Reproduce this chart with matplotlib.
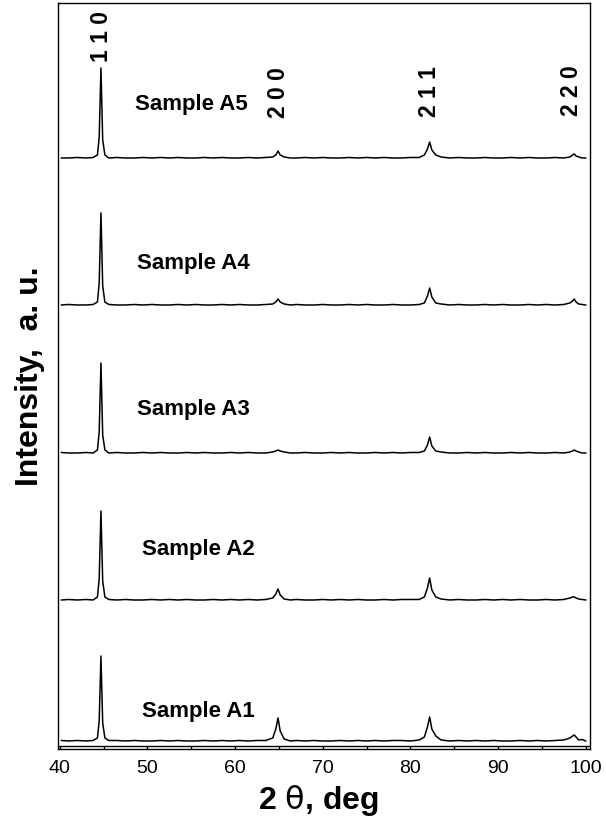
import matplotlib
matplotlib.use("Agg")
import matplotlib.pyplot as plt
from matplotlib.ticker import MultipleLocator

plt.rcParams['font.family'] = ['Liberation Sans', 'DejaVu Sans']
plt.rcParams['mathtext.fontset'] = 'dejavusans'

# 2theta grid (deg)
two_theta = [40.2, 41.0, 42.0, 43.0, 43.8, 44.3, 44.5, 44.7, 44.9, 45.15, 45.6,
             46.5, 47.5, 48.5, 49.5, 50.5, 51.5, 52.5, 53.5, 54.5, 55.5, 56.5, 57.5,
             58.5, 59.5, 60.5, 61.5, 62.5, 63.5, 64.3, 64.65, 64.9, 65.15, 65.6, 66.3,
             67.0, 68.0, 69.0, 70.0, 71.0, 72.0, 73.0, 74.0, 75.0, 76.0, 77.0, 78.0,
             79.0, 80.0, 81.0, 81.6, 81.95, 82.2, 82.45, 82.9, 83.5,
             84.5, 85.5, 86.5, 87.5, 88.5, 89.5, 90.5, 91.5, 92.5, 93.5, 94.5, 95.5,
             96.5, 97.5, 98.2, 98.5, 98.7, 98.9, 99.2, 99.6, 100.0]

# intensities (a.u.) above each trace's own baseline
int_a1 = [0.5, 0, 0.5, 0, 0.5, 3, 20, 85, 18, 3, 0.5,
          0.5, 0, 0.5, 0, 0, 0.5, 0, 0.5, 0, 0, 0.5, 0, 0.5, 0, 0.5, 0, 0.5, 0.5, 3, 12, 23, 10, 2, 0,
          0.5, 0, 0.5, 0, 0, 0.5, 0, 0.5, 0, 0.5, 0, 0.5, 0.5, 0, 1, 4, 14, 24, 12, 5, 1,
          0, 0.5, 0, 0.5, 0, 0.5, 0, 0, 0.5, 0, 0.5, 0, 0.5, 1, 3, 5, 6, 4, 1, 1.5, 0]
int_a2 = [0, 0.5, 0, 0.5, 0, 3, 21, 89, 19, 3, 0.5,
          0, 0.5, 0, 0, 0.5, 0, 0.5, 0, 0.5, 0, 0, 0.5, 0, 0.5, 0, 0.5, 0, 0.5, 2, 6, 11, 5, 1, 0,
          0.5, 0, 0, 0.5, 0, 0.5, 0, 0.5, 0, 0, 0.5, 0, 0.5, 0.5, 0.5, 3, 12, 22, 10, 3, 1,
          0, 0.5, 0, 0, 0.5, 0, 0.5, 0, 0.5, 0, 0, 0.5, 0, 0.5, 2, 3, 3, 2, 1, 0.5, 0]
int_a3 = [0.5, 0, 0, 0.5, 0, 3, 21, 90, 18, 3, 0,
          0.5, 0, 0, 0.5, 0, 0.5, 0, 0, 0.5, 0, 0.5, 0, 0, 0.5, 0, 0.5, 0, 0, 1, 2, 3, 2, 1, 0,
          0, 0.5, 0, 0, 0.5, 0, 0.5, 0, 0, 0.5, 0, 0.5, 0, 0.5, 0.5, 2, 8, 16, 7, 2, 1,
          0, 0, 0.5, 0, 0.5, 0, 0, 0.5, 0, 0.5, 0, 0, 0.5, 0, 1, 2, 3, 2, 1, 0, 0]
int_a4 = [0, 0.5, 0, 0, 0.5, 3, 22, 92, 19, 3, 0.5,
          0, 0, 0.5, 0, 0.5, 0, 0, 0.5, 0, 0.5, 0, 0, 0.5, 0, 0.5, 0, 0, 0.5, 1, 3, 6, 3, 1, 0,
          0.5, 0, 0, 0.5, 0, 0, 0.5, 0, 0.5, 0, 0, 0.5, 0, 0, 0.5, 2, 9, 17, 8, 2, 1,
          0, 0.5, 0, 0, 0.5, 0, 0.5, 0, 0, 0.5, 0, 0.5, 0, 0.5, 2, 4, 6, 3, 1, 0.5, 0]
int_a5 = [0, 0, 0.5, 0, 0.5, 3, 21, 90, 18, 3, 0,
          0.5, 0, 0, 0.5, 0, 0.5, 0, 0.5, 0, 0, 0.5, 0, 0.5, 0, 0, 0.5, 0, 0.5, 1, 3, 7, 3, 1, 0,
          0, 0.5, 0, 0.5, 0, 0, 0.5, 0, 0.5, 0, 0.5, 0, 0, 0.5, 0.5, 3, 9, 16, 8, 3, 1,
          0, 0.5, 0, 0, 0.5, 0, 0, 0.5, 0, 0.5, 0, 0, 0.5, 0, 1, 3, 4, 2, 1, 0, 0]

samples = ["Sample A1", "Sample A2", "Sample A3", "Sample A4", "Sample A5"]
offsets = [8, 149, 296, 444, 591]
label_x = [49.4, 49.4, 48.8, 48.8, 48.6]
label_y = [37, 199, 339, 485, 644]

hkl = ["1 1 0", "2 0 0", "2 1 1", "2 2 0"]
hkl_x = [44.8, 64.9, 82.2, 98.4]
hkl_y = [712, 656, 657, 658]

fig = plt.figure(figsize=(6.06, 8.30), dpi=100)
ax = fig.add_axes([0.0957, 0.0976, 0.878, 0.8988])

for yy, off in zip([int_a1, int_a2, int_a3, int_a4, int_a5], offsets):
    ax.plot(two_theta, [v + off for v in yy], "k-", lw=1.1)

for name, lx, ly in zip(samples, label_x, label_y):
    ax.text(lx, ly, name, fontsize=16, fontweight="bold", ha="left", va="center")

for lab, hx, hy in zip(hkl, hkl_x, hkl_y):
    ax.text(hx, hy, lab, fontsize=16.5, fontweight="bold", rotation=90,
            ha="center", va="center")

# double rule along the bottom axis
ax.axhline(2.5, color="k", lw=1.0)

ax.set_xlim(39.8, 100.5)
ax.set_ylim(0, 746)
ax.xaxis.set_major_locator(MultipleLocator(10))
ax.xaxis.set_minor_locator(MultipleLocator(5))
ax.tick_params(axis="x", which="both", direction="in", length=2.5, width=1.0,
               labelsize=14, pad=8)
ax.set_yticks([])
for sp in ax.spines.values():
    sp.set_linewidth(1.0)

ax.set_xlabel(r"2 $\mathrm{\theta}$, deg", fontsize=23, fontweight="bold")
ax.xaxis.set_label_coords(0.489, -0.045)
ax.set_ylabel("Intensity,  a. u.", fontsize=23, fontweight="bold")
ax.yaxis.set_label_coords(-0.024, 0.5)

fig.savefig("out.png", dpi=100)
